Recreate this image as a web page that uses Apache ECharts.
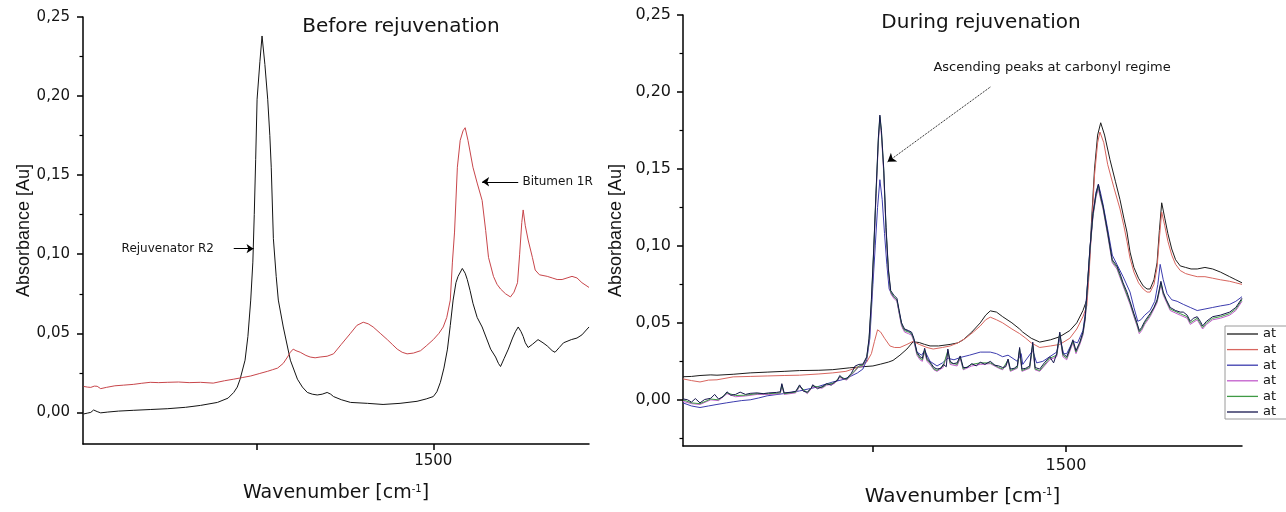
<!DOCTYPE html>
<html>
<head>
<meta charset="utf-8">
<script src="https://cdn.jsdelivr.net/npm/echarts@6/dist/echarts.min.js"></script>
<style>
  html, body { margin: 0; padding: 0; background: #ffffff; }
  #chart { width: 1286px; height: 512px; }
</style>
</head>
<body>
<div id="chart"></div>
<script>
// ---------- tick values ----------
const absorbanceTicks = [0, 0.05, 0.10, 0.15, 0.20, 0.25];
const absorbanceMinorBefore = [0.025, 0.075, 0.125, 0.175, 0.225];
const absorbanceMinorDuring = [-0.025, 0.025, 0.075, 0.125, 0.175, 0.225];
const wavenumberTicks = [1750, 1500];
const wavenumberLabels = [1500];

// ---------- Before rejuvenation: [wavenumber cm-1, absorbance] ----------
const rejuvenatorR2 = [[1994,-0.001],[1989,-0.0005],[1984,0.000],[1980,0.0015],[1975,0.0005],[1970,-0.0003],[1960,0.0002],[1945,0.0008],[1924,0.0013],[1900,0.0018],[1876,0.0023],[1850,0.0032],[1829,0.0044],[1805,0.0063],[1790,0.009],[1782,0.0126],[1777,0.016],[1773,0.021],[1766,0.033],[1762,0.048],[1758,0.071],[1755,0.095],[1753,0.125],[1751,0.160],[1749,0.198],[1745,0.222],[1742,0.238],[1738,0.220],[1734,0.198],[1731,0.175],[1729,0.155],[1726,0.110],[1722,0.086],[1719,0.071],[1712,0.054],[1702,0.033],[1692,0.021],[1685,0.016],[1678,0.0126],[1671,0.0115],[1664,0.011],[1657,0.0115],[1650,0.0126],[1645,0.0115],[1641,0.010],[1630,0.008],[1617,0.0063],[1593,0.0057],[1571,0.005],[1547,0.0057],[1523,0.007],[1510,0.0085],[1500,0.010],[1495,0.013],[1490,0.019],[1485,0.028],[1480,0.040],[1476,0.055],[1472,0.071],[1468,0.082],[1465,0.086],[1459,0.091],[1455,0.088],[1452,0.084],[1448,0.077],[1444,0.069],[1438,0.060],[1431,0.054],[1425,0.047],[1419,0.040],[1412,0.035],[1408,0.031],[1405,0.029],[1400,0.034],[1394,0.040],[1388,0.047],[1384,0.051],[1380,0.054],[1376,0.051],[1373,0.048],[1370,0.044],[1366,0.041],[1360,0.043],[1352,0.046],[1345,0.044],[1339,0.042],[1332,0.039],[1328,0.038],[1322,0.041],[1316,0.044],[1305,0.046],[1297,0.047],[1290,0.049],[1280,0.054]];

const bitumen1R = [[1994,0.0164],[1989,0.016],[1984,0.0158],[1979,0.0166],[1975,0.0165],[1970,0.015],[1962,0.0158],[1950,0.0168],[1938,0.0172],[1924,0.0177],[1912,0.0184],[1900,0.019],[1888,0.0188],[1876,0.019],[1860,0.0192],[1845,0.0188],[1829,0.019],[1811,0.0185],[1795,0.020],[1782,0.021],[1770,0.022],[1758,0.023],[1746,0.0245],[1734,0.026],[1727,0.027],[1720,0.028],[1712,0.031],[1706,0.035],[1702,0.038],[1698,0.040],[1694,0.039],[1688,0.038],[1680,0.036],[1674,0.035],[1667,0.0345],[1660,0.035],[1650,0.0355],[1641,0.037],[1630,0.043],[1617,0.050],[1608,0.055],[1599,0.057],[1592,0.056],[1585,0.054],[1575,0.050],[1565,0.046],[1558,0.043],[1551,0.040],[1544,0.038],[1537,0.037],[1528,0.0375],[1518,0.039],[1510,0.042],[1500,0.046],[1492,0.050],[1486,0.054],[1481,0.060],[1476,0.071],[1473,0.095],[1470,0.114],[1466,0.155],[1462,0.172],[1458,0.178],[1455,0.180],[1451,0.172],[1444,0.155],[1438,0.145],[1431,0.134],[1426,0.115],[1422,0.098],[1415,0.086],[1410,0.081],[1405,0.078],[1398,0.075],[1391,0.073],[1386,0.076],[1381,0.082],[1378,0.100],[1375,0.120],[1373,0.128],[1370,0.118],[1366,0.109],[1360,0.098],[1356,0.090],[1350,0.087],[1339,0.086],[1332,0.085],[1325,0.084],[1318,0.084],[1311,0.085],[1304,0.086],[1297,0.085],[1290,0.082],[1280,0.079]];

// ---------- During rejuvenation: six spectra ----------
const during1 = [[1996,0.015],[1985,0.0152],[1974,0.0158],[1960,0.0162],[1952,0.016],[1931,0.0166],[1909,0.0175],[1887,0.018],[1865,0.0185],[1845,0.019],[1820,0.0192],[1802,0.0196],[1780,0.0208],[1763,0.0215],[1750,0.022],[1740,0.0232],[1730,0.0245],[1724,0.0256],[1715,0.029],[1706,0.033],[1698,0.0377],[1690,0.0372],[1683,0.036],[1676,0.035],[1665,0.035],[1650,0.036],[1640,0.037],[1633,0.039],[1622,0.044],[1611,0.050],[1604,0.055],[1598,0.0578],[1590,0.057],[1582,0.054],[1570,0.050],[1560,0.046],[1556,0.044],[1545,0.040],[1534,0.0375],[1520,0.039],[1508,0.041],[1495,0.045],[1486,0.050],[1478,0.058],[1473,0.065],[1470,0.085],[1467,0.115],[1463,0.150],[1459,0.172],[1455,0.180],[1450,0.172],[1443,0.156],[1436,0.142],[1430,0.130],[1425,0.118],[1421,0.109],[1417,0.096],[1412,0.086],[1406,0.079],[1400,0.074],[1395,0.072],[1391,0.072],[1386,0.078],[1382,0.089],[1379,0.110],[1376,0.128],[1372,0.118],[1368,0.108],[1363,0.098],[1358,0.091],[1352,0.087],[1345,0.086],[1338,0.085],[1330,0.085],[1320,0.086],[1310,0.085],[1300,0.083],[1288,0.080],[1280,0.078],[1272,0.076]];

const during2 = [[1996,0.0136],[1985,0.0125],[1974,0.0116],[1963,0.0128],[1952,0.013],[1931,0.0149],[1909,0.0152],[1887,0.0155],[1865,0.0158],[1845,0.016],[1820,0.0168],[1802,0.0175],[1785,0.0185],[1776,0.020],[1766,0.022],[1758,0.0246],[1752,0.030],[1748,0.038],[1744,0.0455],[1740,0.044],[1735,0.040],[1728,0.035],[1722,0.034],[1715,0.034],[1706,0.036],[1698,0.038],[1690,0.036],[1680,0.034],[1672,0.033],[1660,0.034],[1650,0.035],[1640,0.037],[1630,0.040],[1620,0.044],[1611,0.048],[1604,0.052],[1598,0.0537],[1590,0.052],[1582,0.050],[1570,0.046],[1560,0.043],[1552,0.040],[1545,0.037],[1534,0.034],[1520,0.035],[1508,0.036],[1495,0.040],[1486,0.046],[1478,0.054],[1473,0.061],[1470,0.082],[1467,0.110],[1463,0.146],[1459,0.167],[1456,0.174],[1451,0.167],[1446,0.153],[1438,0.138],[1430,0.124],[1425,0.113],[1421,0.103],[1417,0.092],[1412,0.083],[1406,0.076],[1400,0.072],[1395,0.070],[1391,0.070],[1386,0.075],[1382,0.086],[1379,0.105],[1376,0.122],[1372,0.113],[1368,0.103],[1363,0.094],[1358,0.088],[1352,0.084],[1345,0.082],[1338,0.081],[1330,0.080],[1320,0.080],[1310,0.079],[1300,0.078],[1288,0.077],[1280,0.076],[1272,0.075]];

const during3 = [[1996,-0.002],[1985,-0.004],[1974,-0.005],[1963,-0.004],[1952,-0.003],[1940,-0.002],[1931,-0.0013],[1920,-0.0005],[1909,0.000],[1898,0.0012],[1887,0.0026],[1866,0.004],[1845,0.0058],[1825,0.008],[1802,0.0116],[1790,0.013],[1780,0.015],[1770,0.0175],[1763,0.020],[1758,0.026],[1754,0.040],[1750,0.075],[1747,0.100],[1744,0.125],[1741,0.143],[1738,0.130],[1735,0.108],[1732,0.088],[1729,0.072],[1724,0.067],[1719,0.065],[1715,0.054],[1711,0.046],[1706,0.045],[1702,0.044],[1698,0.041],[1693,0.031],[1687,0.029],[1683,0.032],[1676,0.025],[1667,0.022],[1660,0.024],[1653,0.027],[1645,0.026],[1637,0.0275],[1625,0.029],[1611,0.031],[1598,0.031],[1590,0.030],[1582,0.028],[1575,0.029],[1563,0.025],[1558,0.030],[1556,0.023],[1543,0.032],[1538,0.024],[1530,0.025],[1521,0.028],[1512,0.031],[1508,0.040],[1503,0.030],[1499,0.030],[1491,0.038],[1485,0.037],[1478,0.045],[1475,0.056],[1472,0.076],[1469,0.098],[1465,0.121],[1461,0.135],[1458,0.140],[1455,0.134],[1452,0.127],[1446,0.111],[1440,0.094],[1434,0.088],[1426,0.080],[1417,0.070],[1412,0.060],[1407,0.051],[1403,0.052],[1398,0.055],[1391,0.058],[1385,0.064],[1381,0.075],[1378,0.088],[1374,0.078],[1369,0.069],[1363,0.065],[1356,0.064],[1348,0.062],[1339,0.060],[1330,0.058],[1320,0.059],[1310,0.060],[1300,0.061],[1288,0.062],[1280,0.064],[1272,0.067]];

const during4 = [[1996,-0.001],[1985,-0.0025],[1974,-0.003],[1960,0.000],[1950,-0.0005],[1939,0.004],[1928,0.002],[1915,0.0025],[1900,0.0035],[1885,0.0035],[1870,0.004],[1868,0.009],[1865,0.0035],[1850,0.0045],[1845,0.0085],[1835,0.004],[1828,0.0085],[1816,0.0075],[1810,0.0095],[1800,0.0105],[1793,0.0145],[1784,0.0128],[1778,0.016],[1768,0.0215],[1763,0.022],[1758,0.027],[1755,0.038],[1752,0.062],[1749,0.095],[1746,0.132],[1743,0.167],[1741,0.182],[1739,0.172],[1736,0.147],[1733,0.109],[1730,0.083],[1727,0.069],[1723,0.066],[1719,0.064],[1716,0.056],[1713,0.048],[1709,0.044],[1704,0.043],[1700,0.042],[1697,0.038],[1693,0.029],[1689,0.026],[1686,0.025],[1683,0.031],[1680,0.025],[1676,0.023],[1671,0.0195],[1667,0.0185],[1659,0.021],[1653,0.031],[1650,0.023],[1641,0.022],[1637,0.027],[1633,0.0195],[1622,0.022],[1611,0.023],[1598,0.0235],[1587,0.0205],[1582,0.0195],[1575,0.025],[1572,0.0185],[1563,0.0205],[1560,0.032],[1557,0.0185],[1547,0.0205],[1543,0.035],[1540,0.0195],[1534,0.0185],[1521,0.026],[1512,0.028],[1508,0.042],[1504,0.028],[1499,0.026],[1491,0.037],[1487,0.030],[1482,0.036],[1478,0.042],[1475,0.052],[1472,0.074],[1469,0.096],[1465,0.119],[1461,0.132],[1458,0.137],[1455,0.130],[1452,0.124],[1446,0.107],[1440,0.089],[1434,0.085],[1426,0.074],[1417,0.062],[1412,0.054],[1408,0.048],[1405,0.043],[1402,0.045],[1398,0.049],[1391,0.054],[1382,0.063],[1377,0.075],[1374,0.068],[1365,0.058],[1352,0.055],[1343,0.053],[1339,0.049],[1330,0.052],[1323,0.046],[1318,0.049],[1310,0.052],[1300,0.053],[1288,0.055],[1280,0.058],[1272,0.064]];

const during5 = [[1996,0.000],[1985,-0.002],[1974,-0.0025],[1960,0.0005],[1950,0.000],[1939,0.0045],[1928,0.0028],[1915,0.003],[1900,0.004],[1885,0.004],[1870,0.0045],[1868,0.0098],[1865,0.004],[1850,0.005],[1845,0.009],[1835,0.0045],[1828,0.009],[1816,0.008],[1810,0.010],[1800,0.011],[1793,0.015],[1784,0.0133],[1778,0.0165],[1768,0.022],[1763,0.0226],[1758,0.0275],[1755,0.039],[1752,0.064],[1749,0.097],[1746,0.134],[1743,0.169],[1741,0.184],[1739,0.174],[1736,0.149],[1733,0.111],[1730,0.084],[1727,0.070],[1723,0.067],[1719,0.065],[1716,0.057],[1713,0.049],[1709,0.045],[1704,0.044],[1700,0.043],[1697,0.039],[1693,0.030],[1689,0.027],[1686,0.026],[1683,0.032],[1680,0.026],[1676,0.024],[1671,0.020],[1667,0.019],[1659,0.022],[1653,0.032],[1650,0.024],[1641,0.023],[1637,0.028],[1633,0.020],[1622,0.023],[1611,0.024],[1598,0.024],[1587,0.021],[1582,0.020],[1575,0.026],[1572,0.019],[1563,0.021],[1560,0.033],[1557,0.019],[1547,0.021],[1543,0.036],[1540,0.020],[1534,0.019],[1521,0.027],[1512,0.029],[1508,0.043],[1504,0.029],[1499,0.027],[1491,0.038],[1487,0.031],[1482,0.037],[1478,0.043],[1475,0.053],[1472,0.075],[1469,0.097],[1465,0.120],[1461,0.133],[1458,0.139],[1455,0.131],[1452,0.125],[1446,0.108],[1440,0.090],[1434,0.086],[1426,0.075],[1417,0.063],[1412,0.055],[1408,0.049],[1405,0.044],[1402,0.046],[1398,0.050],[1391,0.055],[1382,0.064],[1377,0.076],[1374,0.069],[1365,0.059],[1352,0.056],[1343,0.054],[1339,0.050],[1330,0.053],[1323,0.047],[1318,0.050],[1310,0.053],[1300,0.054],[1288,0.056],[1280,0.059],[1272,0.065]];

const during6 = [[1996,0.0006],[1990,0.000],[1985,-0.0015],[1980,0.0008],[1974,-0.002],[1968,0.0002],[1960,0.001],[1955,0.0035],[1950,0.0005],[1944,0.002],[1939,0.0052],[1934,0.003],[1928,0.0035],[1922,0.005],[1915,0.0035],[1909,0.0042],[1900,0.0045],[1892,0.004],[1885,0.0045],[1875,0.0048],[1870,0.0052],[1868,0.0105],[1865,0.0045],[1855,0.005],[1850,0.0055],[1845,0.0097],[1840,0.0055],[1835,0.005],[1830,0.0075],[1828,0.0098],[1822,0.0072],[1816,0.0085],[1810,0.0105],[1804,0.0095],[1800,0.0115],[1796,0.0125],[1793,0.0158],[1788,0.0135],[1784,0.0138],[1778,0.0172],[1773,0.022],[1768,0.023],[1763,0.0232],[1758,0.028],[1755,0.040],[1752,0.065],[1749,0.098],[1746,0.135],[1743,0.170],[1741,0.185],[1739,0.175],[1736,0.150],[1733,0.112],[1730,0.085],[1727,0.071],[1723,0.068],[1719,0.066],[1716,0.058],[1713,0.050],[1709,0.046],[1704,0.045],[1700,0.044],[1697,0.040],[1693,0.031],[1689,0.028],[1686,0.027],[1683,0.0335],[1680,0.027],[1676,0.0245],[1671,0.021],[1667,0.020],[1662,0.0205],[1659,0.023],[1655,0.0215],[1653,0.033],[1650,0.025],[1646,0.0235],[1641,0.024],[1637,0.0285],[1633,0.021],[1628,0.021],[1622,0.0235],[1616,0.022],[1611,0.0245],[1605,0.023],[1598,0.025],[1592,0.0225],[1587,0.022],[1582,0.021],[1578,0.0215],[1575,0.0265],[1572,0.020],[1567,0.0205],[1563,0.022],[1560,0.034],[1557,0.020],[1552,0.0205],[1547,0.022],[1543,0.0375],[1540,0.021],[1534,0.020],[1528,0.024],[1521,0.028],[1516,0.024],[1512,0.030],[1508,0.044],[1504,0.030],[1499,0.028],[1495,0.033],[1491,0.039],[1487,0.032],[1482,0.0375],[1478,0.044],[1475,0.054],[1472,0.076],[1469,0.098],[1465,0.121],[1461,0.134],[1458,0.140],[1455,0.132],[1452,0.126],[1446,0.109],[1440,0.091],[1434,0.087],[1430,0.082],[1426,0.076],[1421,0.070],[1417,0.064],[1412,0.056],[1408,0.050],[1405,0.045],[1402,0.047],[1398,0.051],[1391,0.056],[1386,0.060],[1382,0.065],[1379,0.072],[1377,0.077],[1374,0.070],[1370,0.065],[1365,0.060],[1358,0.058],[1352,0.057],[1348,0.057],[1343,0.055],[1339,0.051],[1335,0.053],[1330,0.054],[1326,0.051],[1323,0.048],[1318,0.051],[1310,0.054],[1300,0.055],[1288,0.057],[1280,0.060],[1272,0.066]];

const duringNames = ['at 1', 'at 2', 'at 3', 'at 4', 'at 5', 'at 6'];
const duringColors = ['#1c1c1c', '#d8665f', '#3c3cae', '#c25ccc', '#3f9a45', '#17174e'];
const duringData = [during1, during2, during3, during4, during5, during6];

// ---------- styling ----------
const SANS = 'DejaVu Sans';
const INK = '#141414';
const fmtAbs = v => v.toFixed(2).replace('.', ',');
const fmtWave = v => String(v);

function wavenumberAxis(gridIndex, min, max, labelSize, labelMargin, nameSize, nameGap) {
  return {
    type: 'value', gridIndex, inverse: true, min, max,
    axisLine: { show: true, onZero: false, lineStyle: { color: '#000', width: 1.5 } },
    axisTick: { show: true, length: 6, customValues: wavenumberTicks, lineStyle: { color: '#000', width: 1.5 } },
    axisLabel: { show: true, customValues: wavenumberLabels, formatter: fmtWave, fontFamily: SANS, fontSize: labelSize, color: INK, margin: labelMargin },
    splitLine: { show: false },
    name: '{t|Wavenumber [cm}{s|-1}{t|]}',
    nameLocation: 'middle', nameGap,
    nameTextStyle: {
      rich: {
        t: { fontFamily: SANS, fontSize: nameSize, color: INK },
        s: { fontFamily: SANS, fontSize: 10, color: INK, verticalAlign: 'top' }
      }
    }
  };
}

function absorbanceAxis(gridIndex, min, labelSize, labelMargin, nameGap) {
  return {
    type: 'value', gridIndex, min, max: 0.25, position: 'left',
    axisLine: { show: true, onZero: false, lineStyle: { color: '#000', width: 1.5 } },
    axisTick: { show: true, length: 6, customValues: absorbanceTicks, lineStyle: { color: '#000', width: 1.5 } },
    axisLabel: { show: true, customValues: absorbanceTicks, formatter: fmtAbs, fontFamily: SANS, fontSize: labelSize, color: INK, margin: labelMargin },
    splitLine: { show: false },
    name: 'Absorbance [Au]', nameLocation: 'middle', nameRotate: 90, nameGap,
    nameTextStyle: { fontFamily: 'Liberation Sans', fontSize: 18, color: INK }
  };
}

function minorAxis(gridIndex, min, values) {
  return {
    type: 'value', gridIndex, min, max: 0.25, position: 'left',
    axisLine: { show: false },
    axisTick: { show: true, length: 3.5, customValues: values, lineStyle: { color: '#000', width: 1.2 } },
    axisLabel: { show: false },
    splitLine: { show: false }
  };
}

const noteLabel = (text, align, size) => ({
  show: true, position: 'inside', align, verticalAlign: 'middle',
  formatter: text, fontFamily: SANS, fontSize: size, color: INK
});

const series = [
  {
    name: 'Rejuvenator R2', type: 'line', xAxisIndex: 0, yAxisIndex: 0,
    data: rejuvenatorR2, symbol: 'none', lineStyle: { color: '#141414', width: 1 }, itemStyle: { color: '#141414' },
    markLine: {
      silent: true, symbol: ['none', 'arrow'], symbolSize: 7, label: { show: false },
      lineStyle: { color: '#000', width: 1, type: 'solid' },
      data: [[{ coord: [1782, 0.1035] }, { coord: [1754, 0.1035] }]]
    },
    markPoint: {
      silent: true, symbol: 'circle', symbolSize: 1, itemStyle: { color: 'rgba(0,0,0,0)' },
      label: noteLabel('Rejuvenator R2', 'right', 12),
      data: [{ coord: [1810, 0.1035] }]
    }
  },
  {
    name: 'Bitumen 1R', type: 'line', xAxisIndex: 0, yAxisIndex: 0,
    data: bitumen1R, symbol: 'none', lineStyle: { color: '#c8464b', width: 1 }, itemStyle: { color: '#c8464b' },
    markLine: {
      silent: true, symbol: ['none', 'arrow'], symbolSize: 7, label: { show: false },
      lineStyle: { color: '#000', width: 1, type: 'solid' },
      data: [[{ coord: [1380, 0.1458] }, { coord: [1431, 0.1458] }]]
    },
    markPoint: {
      silent: true, symbol: 'circle', symbolSize: 1, itemStyle: { color: 'rgba(0,0,0,0)' },
      label: noteLabel('Bitumen 1R', 'left', 12),
      data: [{ coord: [1374, 0.1458] }]
    }
  }
];

duringData.forEach((d, i) => {
  const s = {
    name: duringNames[i], type: 'line', xAxisIndex: 1, yAxisIndex: 2,
    data: d, symbol: 'none',
    lineStyle: { color: duringColors[i], width: 1 }, itemStyle: { color: duringColors[i] }
  };
  if (i === 0) {
    s.markLine = {
      silent: true, symbol: ['none', 'arrow'], symbolSize: 8, label: { show: false },
      lineStyle: { color: '#000', width: 1, type: 'dotted' },
      data: [[{ coord: [1598, 0.2032] }, { coord: [1731, 0.1546] }]]
    };
    s.markPoint = {
      silent: true, symbol: 'circle', symbolSize: 1, itemStyle: { color: 'rgba(0,0,0,0)' },
      label: noteLabel('Ascending peaks at carbonyl regime', 'center', 13),
      data: [{ coord: [1518, 0.2155] }]
    };
  }
  series.push(s);
});

const chart = echarts.init(document.getElementById('chart'), null, { renderer: 'canvas' });
chart.setOption({
  backgroundColor: '#ffffff',
  animation: false,
  title: [
    { text: 'Before rejuvenation', left: 396, top: 12, textAlign: 'center',
      textStyle: { fontFamily: SANS, fontSize: 20, fontWeight: 'normal', color: INK } },
    { text: 'During rejuvenation', left: 976, top: 8, textAlign: 'center',
      textStyle: { fontFamily: SANS, fontSize: 20, fontWeight: 'normal', color: INK } }
  ],
  legend: {
    data: duringNames, orient: 'vertical', left: 1225, top: 326,
    formatter: () => 'at', selectedMode: false,
    icon: 'rect', itemWidth: 31, itemHeight: 1.3, itemGap: 1.6,
    padding: [1, 40, 0, 2], borderColor: '#9a9a9a', borderWidth: 1, backgroundColor: '#ffffff',
    textStyle: { fontFamily: SANS, fontSize: 13, color: INK, lineHeight: 14 }
  },
  grid: [
    { left: 83, top: 17, width: 506, height: 427, containLabel: false },
    { left: 683, top: 15, width: 559, height: 432, containLabel: false }
  ],
  xAxis: [
    wavenumberAxis(0, 1280, 1995, 15, 10, 19, 40),
    wavenumberAxis(1, 1272, 1996, 16, 12, 20, 41)
  ],
  yAxis: [
    absorbanceAxis(0, -0.02, 15, 13, 50),
    minorAxis(0, -0.02, absorbanceMinorBefore),
    absorbanceAxis(1, -0.03, 16, 12, 58),
    minorAxis(1, -0.03, absorbanceMinorDuring)
  ],
  series
});
</script>
</body>
</html>
